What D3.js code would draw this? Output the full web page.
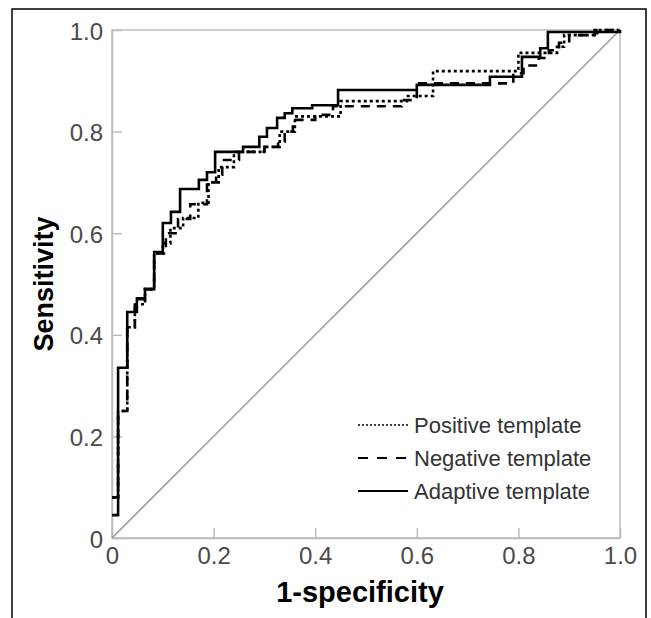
<!DOCTYPE html>
<html>
<head>
<meta charset="utf-8">
<script src="https://cdn.jsdelivr.net/npm/d3@7"></script>
<style>
  body { margin: 0; background: #fff; }
  svg { display: block; font-family: "Liberation Sans", Arial, sans-serif; }
</style>
</head>
<body>
<svg width="651" height="618"></svg>
<script>
// ROC step vertices (1-specificity, sensitivity), drawn with step-after
const adaptiveFpr = [0, 0.012, 0.03, 0.049, 0.065, 0.083, 0.1, 0.116, 0.134, 0.171, 0.187, 0.203, 0.258, 0.29, 0.305, 0.325, 0.34, 0.355, 0.394, 0.445, 0.6, 0.744, 0.807, 0.843, 0.858, 1.0];
const adaptiveTpr = [0.045, 0.335, 0.445, 0.472, 0.49, 0.563, 0.62, 0.642, 0.687, 0.705, 0.72, 0.76, 0.77, 0.79, 0.807, 0.827, 0.836, 0.846, 0.852, 0.882, 0.892, 0.908, 0.947, 0.964, 0.996, 1.0];

const negativeFpr = [0, 0.012, 0.03, 0.045, 0.065, 0.083, 0.106, 0.13, 0.154, 0.187, 0.205, 0.217, 0.25, 0.3, 0.327, 0.34, 0.356, 0.4, 0.435, 0.57, 0.6, 0.79, 0.81, 0.84, 0.86, 0.88, 0.9, 0.95, 1.0];
const negativeTpr = [0.08, 0.25, 0.415, 0.47, 0.49, 0.56, 0.6, 0.628, 0.657, 0.7, 0.715, 0.744, 0.76, 0.77, 0.78, 0.8, 0.823, 0.833, 0.85, 0.862, 0.895, 0.915, 0.93, 0.945, 0.96, 0.975, 0.99, 1.0, 1.0];

const positiveFpr = [0, 0.012, 0.03, 0.045, 0.065, 0.083, 0.1, 0.115, 0.14, 0.17, 0.19, 0.21, 0.24, 0.3, 0.33, 0.36, 0.45, 0.58, 0.632, 0.8, 0.876, 0.89, 0.955, 1.0];
const positiveTpr = [0.08, 0.25, 0.415, 0.46, 0.49, 0.56, 0.58, 0.61, 0.63, 0.66, 0.7, 0.73, 0.76, 0.77, 0.8, 0.83, 0.86, 0.87, 0.919, 0.955, 0.967, 0.99, 1.0, 1.0];

const tickValues = [0, 0.2, 0.4, 0.6, 0.8, 1.0];
const tickLabels = ["0", "0.2", "0.4", "0.6", "0.8", "1.0"];

const legendNames = ["Positive template", "Negative template", "Adaptive template"];

const zip = (xs, ys) => xs.map((x, i) => ({ x: x, y: ys[i] }));
const series = [
  { name: legendNames[0], values: zip(positiveFpr, positiveTpr), dash: "3,3" },
  { name: legendNames[1], values: zip(negativeFpr, negativeTpr), dash: "9,7" },
  { name: legendNames[2], values: zip(adaptiveFpr, adaptiveTpr), dash: null }
];

const svg = d3.select("svg");
const plotLeft = 112, plotTop = 30, size = 508;

// outer frame (bottom edge runs off the picture)
svg.append("rect")
  .attr("x", 12).attr("y", 9)
  .attr("width", 634).attr("height", 640)
  .attr("fill", "none")
  .attr("stroke", "#000")
  .attr("stroke-width", 1.5);

const xScale = d3.scaleLinear().domain([0, 1]).range([plotLeft, plotLeft + size]);
const yScale = d3.scaleLinear().domain([0, 1]).range([plotTop + size, plotTop]);

const gray = "#bcbcbc";

// plot box
svg.append("rect")
  .attr("x", plotLeft).attr("y", plotTop)
  .attr("width", size).attr("height", size)
  .attr("fill", "none")
  .attr("stroke", gray)
  .attr("stroke-width", 1.5);

const fmt = d => tickLabels[tickValues.indexOf(d)];

const yAxis = svg.append("g")
  .attr("transform", `translate(${plotLeft},0)`)
  .call(d3.axisLeft(yScale).tickValues(tickValues).tickFormat(fmt)
    .tickSizeInner(-10).tickSizeOuter(0).tickPadding(9));

const xAxis = svg.append("g")
  .attr("transform", `translate(0,${plotTop + size})`)
  .call(d3.axisBottom(xScale).tickValues(tickValues).tickFormat(fmt)
    .tickSizeInner(-10).tickSizeOuter(0).tickPadding(9));

[xAxis, yAxis].forEach(g => {
  g.select(".domain").attr("stroke", gray).attr("stroke-width", 1.5);
  g.selectAll(".tick line").attr("stroke", gray).attr("stroke-width", 1.5);
  g.selectAll(".tick text")
    .attr("fill", "#4a4a4a")
    .style("font-size", "24px")
    .style("font-family", "Liberation Sans, Arial, sans-serif");
});
yAxis.selectAll(".tick text").attr("dy", "0.38em");

// chance diagonal
svg.append("line")
  .attr("x1", xScale(0)).attr("y1", yScale(0))
  .attr("x2", xScale(1)).attr("y2", yScale(1))
  .attr("stroke", "#999")
  .attr("stroke-width", 1.5);

const line = d3.line()
  .x(d => xScale(d.x))
  .y(d => yScale(d.y))
  .curve(d3.curveStepAfter);

svg.selectAll("path.roc")
  .data(series)
  .join("path")
  .attr("class", "roc")
  .attr("d", d => line(d.values))
  .attr("fill", "none")
  .attr("stroke", "#000")
  .attr("stroke-width", 2.6)
  .attr("stroke-dasharray", d => d.dash);

// legend
const legend = svg.append("g")
  .selectAll("g")
  .data(series)
  .join("g")
  .attr("transform", (d, i) => `translate(358, ${425 + i * 33})`);

legend.append("line")
  .attr("x1", 0).attr("x2", 50)
  .attr("stroke", "#000")
  .attr("stroke-width", d => d.dash === "3,3" ? 1.6 : 2)
  .attr("stroke-dasharray", d => d.dash === "3,3" ? "2,2" : (d.dash ? "10,9" : null));

legend.append("text")
  .attr("x", 56)
  .attr("dy", "0.36em")
  .attr("fill", "#333")
  .style("font-size", "22px")
  .text(d => d.name);

// axis titles
svg.append("text")
  .attr("x", 360)
  .attr("y", 602)
  .attr("text-anchor", "middle")
  .style("font-size", "29px")
  .style("font-weight", "bold")
  .text("1-specificity");

svg.append("text")
  .attr("transform", `translate(53, ${plotTop + size / 2}) rotate(-90)`)
  .attr("text-anchor", "middle")
  .style("font-size", "27px")
  .style("font-weight", "bold")
  .text("Sensitivity");
</script>
</body>
</html>
